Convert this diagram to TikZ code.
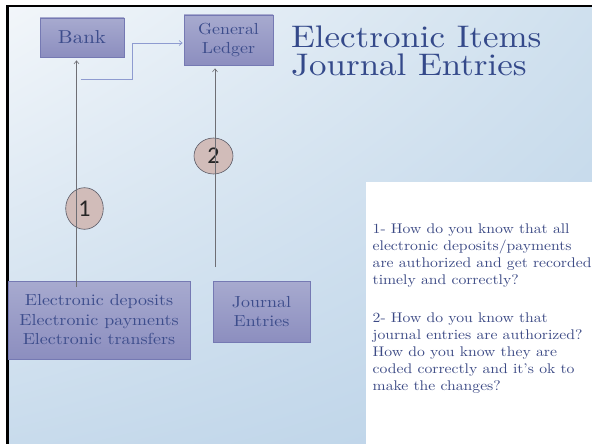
\documentclass[tikz,border=0pt]{standalone}
\usepackage{fontspec}
\usetikzlibrary{arrows.meta,shapes.geometric,shadings}
% a slightly widened Latin Modern stands in for the schoolbook serif
\setmainfont{lmroman10-regular.otf}[FakeStretch=1.12]
\newfontfamily\numfont{Carlito}
\definecolor{bgUL}{HTML}{F2F6FA}
\definecolor{bgUR}{HTML}{CFE0EE}
\definecolor{bgLL}{HTML}{C8DBEC}
\definecolor{bgLR}{HTML}{BCD3E8}
\definecolor{boxTop}{HTML}{A7AACF}
\definecolor{boxBot}{HTML}{8C8EBF}
\definecolor{boxLine}{HTML}{7579B3}
\definecolor{boxText}{HTML}{3D4D8C}
\definecolor{titleText}{HTML}{34498A}
\definecolor{qText}{HTML}{3C4A85}
\definecolor{badgeFill}{HTML}{D1BCB9}
\definecolor{badgeLine}{HTML}{5A5A66}
\definecolor{connGray}{HTML}{6E6E74}
\definecolor{connBlue}{HTML}{8E9BD0}
\tikzset{
  flowbox/.style={draw=boxLine, line width=0.8pt, top color=boxTop, bottom color=boxBot,
    text=boxText, align=center, inner sep=0pt,
    font=\fontsize{16}{19.5}\selectfont},
  badge/.style={ellipse, draw=badgeLine, line width=0.6pt, fill=badgeFill,
    inner sep=0pt, font=\numfont\fontsize{24}{24}\selectfont, text=black!85},
  conn/.style={draw=connGray, line width=0.6pt, -{Straight Barb[length=3pt,width=5pt]}},
  branchconn/.style={draw=connBlue, line width=0.7pt, -{Straight Barb[length=3pt,width=5pt]}},
  titletext/.style={anchor=north west, inner sep=0pt, align=left, text=titleText,
    font=\fontsize{31.2}{28.5}\selectfont},
}
\begin{document}
\begin{tikzpicture}[x=1pt, y=-1pt]
\useasboundingbox (0,0) rectangle (592,444);
% page and slide background
\fill[white] (0,0) rectangle (592,444);
\shade[upper left=bgUL, upper right=bgUR, lower left=bgLL, lower right=bgLR]
  (7.5,6) rectangle (592,444);
% white panel holding the questions
\fill[white] (366,182) rectangle (592,444);
\draw[line width=2.6pt, black] (7.5,444) -- (7.5,6) -- (592,6);

% title
\node[titletext] (title) at (291,25.3) {Electronic Items\\Journal Entries};

% boxes
\node[flowbox, minimum width=84pt, minimum height=39pt,
  font=\fontsize{18.7}{22}\selectfont] (bank) at (82,37.5) {Bank};
\node[flowbox, minimum width=89pt, minimum height=50pt] (gl) at (228.5,40) {General\\Ledger};
\node[flowbox, minimum width=182pt, minimum height=78pt] (elec) at (99,320)
  {Electronic deposits\\Electronic payments\\Electronic transfers};
\node[flowbox, minimum width=97pt, minimum height=61pt] (je) at (261.5,311.5) {Journal\\Entries};

% numbered badges
\node[badge, minimum width=37.6pt, minimum height=41.6pt] (n1) at (84.5,208.5) {1};
\node[badge, minimum width=39pt, minimum height=36pt] (n2) at (213.5,156) {2};

% connectors
\coordinate (s1) at (76.5,287);
\coordinate (b1) at ([xshift=-5.5pt,yshift=-3pt]bank.south);
\draw[conn] (s1) -- (b1);
\coordinate (br) at (80.5,79);
\draw[branchconn] (br) -- ++(52,0) |- ([xshift=-1pt,yshift=-3pt]gl.west);
\coordinate (s2) at (215,267);
\coordinate (g1) at ([xshift=-13.5pt,yshift=-3pt]gl.south);
\draw[conn] (s2) -- (g1);

% questions
\node[anchor=north west, inner sep=0pt, align=left, text=qText,
  font=\fontsize{14}{17}\selectfont] (questions) at (372.5,223.5)
  {1- How do you know that all\\
   electronic deposits/payments\\
   are authorized and get recorded\\
   timely and correctly?\\[21pt]
   2- How do you know that\\
   journal entries are authorized?\\
   How do you know they are\\
   coded correctly and it's ok to\\
   make the changes?};
\end{tikzpicture}
\end{document}
